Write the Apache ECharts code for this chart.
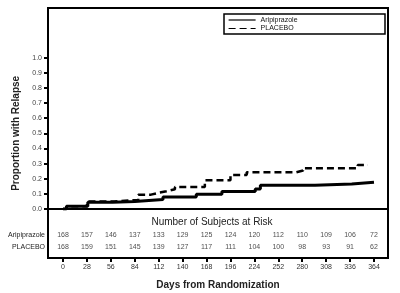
<!DOCTYPE html>
<html>
<head>
<meta charset="utf-8">
<script src="https://cdn.jsdelivr.net/npm/echarts@6/dist/echarts.min.js"></script>
<style>
  html, body { margin: 0; padding: 0; background: #fff; }
  #chart { width: 400px; height: 293px; }
</style>
</head>
<body>
<div id="chart"></div>
<script>
// Kaplan-Meier curves: [day, proportion relapsed from that day on]
const aripiprazoleCurve = [
    [0, 0], [4, 0.018], [29, 0.045], [58, 0.05], [84, 0.062], [117, 0.08],
    [156, 0.097], [186, 0.115], [225, 0.132], [231, 0.157], [295, 0.165],
    [338, 0.177], [364, 0.177]
];
const placeboCurve = [
    [0, 0], [4, 0.018], [28, 0.05], [60, 0.06], [88, 0.095], [103, 0.106],
    [111, 0.117], [121, 0.13], [131, 0.145], [166, 0.19], [196, 0.225],
    [215, 0.243], [273, 0.255], [281, 0.27], [345, 0.29], [357, 0.29]
];

// subjects at risk table
const riskDays = [0, 28, 56, 84, 112, 140, 168, 196, 224, 252, 280, 308, 336, 364];
const aripiprazoleAtRisk = [168, 157, 146, 137, 133, 129, 125, 124, 120, 112, 110, 109, 106, 72];
const placeboAtRisk = [168, 159, 151, 145, 139, 127, 117, 111, 104, 100, 98, 93, 91, 62];
const groups = ['PLACEBO', 'Aripiprazole'];

const FONT = "'Liberation Sans Narrow', 'Liberation Sans', Arial, sans-serif";

const chart = echarts.init(document.getElementById('chart'), null, { renderer: 'canvas' });

// 0 days sits at x=63, 364 at x=374 inside a box from 48 to 388
const X_MIN = -17.6;
const X_MAX = 380.4;

const riskData = [];
riskDays.forEach((d, i) => {
    riskData.push([d, 'Aripiprazole', aripiprazoleAtRisk[i]]);
    riskData.push([d, 'PLACEBO', placeboAtRisk[i]]);
});

const option = {
    animation: false,
    textStyle: { fontFamily: FONT },
    grid: [
        { left: 48, right: 12, top: 57.7, height: 151.3 },
        { left: 48, right: 12, top: 229, height: 24.6 }
    ],
    legend: {
        data: ['Aripiprazole', 'PLACEBO'],
        orient: 'vertical',
        left: 228,
        top: 16.5,
        itemWidth: 27,
        itemHeight: 7,
        itemGap: 1.5,
        padding: 0,
        itemStyle: { opacity: 0 },
        lineStyle: { width: 1.2 },
        textStyle: { fontSize: 7, color: '#111', fontFamily: FONT }
    },
    xAxis: [
        {
            gridIndex: 0,
            type: 'value',
            min: X_MIN,
            max: X_MAX,
            axisLine: { show: true, onZero: false, lineStyle: { color: '#000', width: 2 } },
            axisTick: { show: false },
            axisLabel: { show: false },
            splitLine: { show: false }
        },
        {
            gridIndex: 1,
            type: 'value',
            min: X_MIN,
            max: X_MAX,
            offset: 4.4,
            axisLine: { show: false },
            axisTick: {
                show: true,
                customValues: riskDays,
                length: 4,
                lineStyle: { color: '#000', width: 2 }
            },
            axisLabel: {
                customValues: riskDays,
                fontSize: 7,
                color: '#333',
                margin: 6
            },
            splitLine: { show: false },
            name: 'Days from Randomization',
            nameLocation: 'middle',
            nameGap: 22,
            nameTextStyle: { fontSize: 10, fontWeight: 'bold', color: '#222', fontFamily: FONT }
        }
    ],
    yAxis: [
        {
            gridIndex: 0,
            type: 'value',
            min: 0,
            max: 1,
            interval: 0.1,
            axisLine: { show: true, onZero: false, lineStyle: { color: '#000', width: 2 } },
            axisTick: { show: true, length: 4, lineStyle: { color: '#000', width: 2 } },
            axisLabel: {
                fontSize: 7,
                color: '#444',
                margin: 6,
                formatter: v => v.toFixed(1)
            },
            splitLine: { show: false },
            name: 'Proportion with Relapse',
            nameLocation: 'middle',
            nameGap: 25,
            nameTextStyle: { fontSize: 10, fontWeight: 'bold', color: '#222', fontFamily: FONT }
        },
        {
            gridIndex: 1,
            type: 'category',
            data: groups,
            axisLine: { show: false },
            axisTick: { show: false },
            axisLabel: { fontSize: 7, color: '#222', margin: 3 },
            splitLine: { show: false }
        }
    ],
    graphic: [
        {
            type: 'rect',
            shape: { x: 48, y: 8, width: 340, height: 250 },
            style: { fill: 'none', stroke: '#000', lineWidth: 2 },
            silent: true
        },
        {
            type: 'rect',
            shape: { x: 224, y: 14, width: 161, height: 20 },
            style: { fill: 'none', stroke: '#000', lineWidth: 1.5 },
            silent: true
        },
        {
            type: 'text',
            x: 212,
            y: 222.5,
            style: {
                text: 'Number of Subjects at Risk',
                fontSize: 10,
                fontFamily: FONT,
                fill: '#222',
                align: 'center',
                verticalAlign: 'middle'
            },
            silent: true
        }
    ],
    series: [
        {
            name: 'Aripiprazole',
            type: 'line',
            xAxisIndex: 0,
            yAxisIndex: 0,
            step: 'end',
            symbol: 'none',
            data: aripiprazoleCurve,
            lineStyle: { color: '#000', width: 3, type: 'solid' },
            itemStyle: { color: '#000' },
            z: 3
        },
        {
            name: 'PLACEBO',
            type: 'line',
            xAxisIndex: 0,
            yAxisIndex: 0,
            step: 'end',
            symbol: 'none',
            data: placeboCurve,
            lineStyle: { color: '#000', width: 2.5, type: [7, 4] },
            itemStyle: { color: '#000' },
            z: 2
        },
        {
            name: 'risk',
            type: 'scatter',
            xAxisIndex: 1,
            yAxisIndex: 1,
            symbolSize: 0,
            data: riskData,
            label: {
                show: true,
                position: 'inside',
                fontSize: 7,
                color: '#222',
                formatter: p => p.value[2]
            }
        }
    ]
};

chart.setOption(option);
</script>
</body>
</html>
